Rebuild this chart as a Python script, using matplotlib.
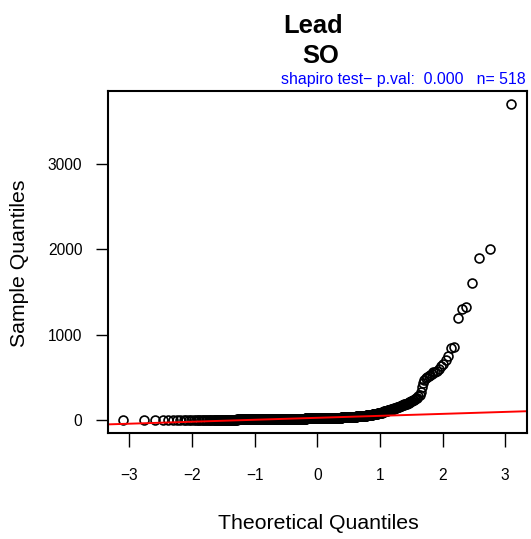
"""
Normal QQ plot of Lead concentrations (SO), styled like R's qqnorm/qqline
"""
from statistics import NormalDist

import numpy as np
import matplotlib
matplotlib.use("Agg")
import matplotlib.pyplot as plt

# sorted sample: bulk as value / count table, upper tail point by point
body_values = [1, 2, 3, 4, 5, 6, 7, 8, 9, 10, 11, 12, 13, 14, 15,
               16, 17, 18, 19, 20, 21, 22, 23, 24, 25, 26, 27, 28, 29, 30,
               32, 34, 36, 38, 40, 43, 46, 50, 55, 60, 66, 72, 78, 85, 92]
body_counts = [1, 2, 2, 2, 3, 5, 6, 8, 10, 13, 15, 17, 18, 16, 14,
               13, 13, 13, 13, 13, 12, 12, 12, 12, 12, 11, 11, 11, 10, 10,
               14, 13, 12, 11, 10, 10, 10, 8, 8, 7, 7, 6, 5, 5, 4]
upper_tail = [97, 100, 102, 104, 106, 108, 110, 112, 114, 115,
              117, 119, 121, 123, 125, 127, 129, 131, 133, 135,
              138, 141, 144, 147, 150, 153, 156, 159, 162, 165,
              168, 172, 175, 179, 182, 186, 189, 193, 196, 200,
              206, 212, 218, 224, 230, 236, 243, 250, 258, 266,
              285, 300, 330, 385, 440, 475, 490, 505, 520, 535,
              545, 560, 570, 580, 600, 640, 660, 700, 750, 845,
              860, 1200, 1300, 1320, 1600, 1900, 2000, 3700]

x_ticks = [-3, -2, -1, 0, 1, 2, 3]
y_ticks = [0, 1000, 2000, 3000]

title_top = "Lead"
title_bottom = "SO"
pval = 0.000


def main():
    sample = np.sort(np.concatenate([np.repeat(body_values, body_counts), upper_tail]))
    n = len(sample)

    # theoretical quantiles as in R's ppoints()
    a = 3 / 8 if n <= 10 else 0.5
    probs = (np.arange(1, n + 1) - a) / (n + 1 - 2 * a)
    theo = np.array([NormalDist().inv_cdf(p) for p in probs])

    # qqline through the quartiles
    q1, q3 = np.quantile(sample, [0.25, 0.75])
    z1, z3 = NormalDist().inv_cdf(0.25), NormalDist().inv_cdf(0.75)
    slope = (q3 - q1) / (z3 - z1)
    intercept = q1 - slope * z1

    plt.rcParams["font.family"] = ["Liberation Sans", "DejaVu Sans"]

    W, H = 531, 539
    fig = plt.figure(figsize=(W / 100, H / 100), dpi=100)
    ax = fig.add_axes([107.5 / W, 1 - 433 / H, (527 - 107.5) / W, (433 - 91) / H])

    ax.plot(theo, sample, linestyle="none", marker="o", mfc="none", mec="black",
            ms=6.4, mew=1.2)
    ax.axline((0, intercept), slope=slope, color="#ff0000", lw=1.4)
    ax.margins(x=0.04, y=0.04)

    ax.set_xticks(x_ticks)
    ax.set_yticks(y_ticks)
    ax.tick_params(axis="both", labelsize=11.2, direction="out", width=1.0, color="black")
    ax.tick_params(axis="x", length=10, pad=15.2)
    ax.tick_params(axis="y", length=8.6, pad=9.5)
    for s in ax.spines.values():
        s.set_linewidth(1.5)

    fig.text(313 / W, 1 - 33 / H, title_top, ha="center", va="baseline",
             fontsize=18.4, fontweight="bold")
    fig.text(320.5 / W, 1 - 63 / H, title_bottom, ha="center", va="baseline",
             fontsize=18.4, fontweight="bold")
    fig.text(526 / W, 1 - 84 / H,
             f"shapiro test\u2212 p.val:  {pval:.3f}   n= {n}",
             ha="right", va="baseline", fontsize=11.45, color="#0000ff")

    fig.text(318 / W, 1 - 529 / H, "Theoretical Quantiles", ha="center", va="baseline",
             fontsize=15.3)
    fig.text(19.5 / W, 1 - 263 / H, "Sample Quantiles", ha="center", va="center",
             rotation=90, fontsize=15.3)

    fig.savefig("out.png", dpi=100)


if __name__ == "__main__":
    main()
